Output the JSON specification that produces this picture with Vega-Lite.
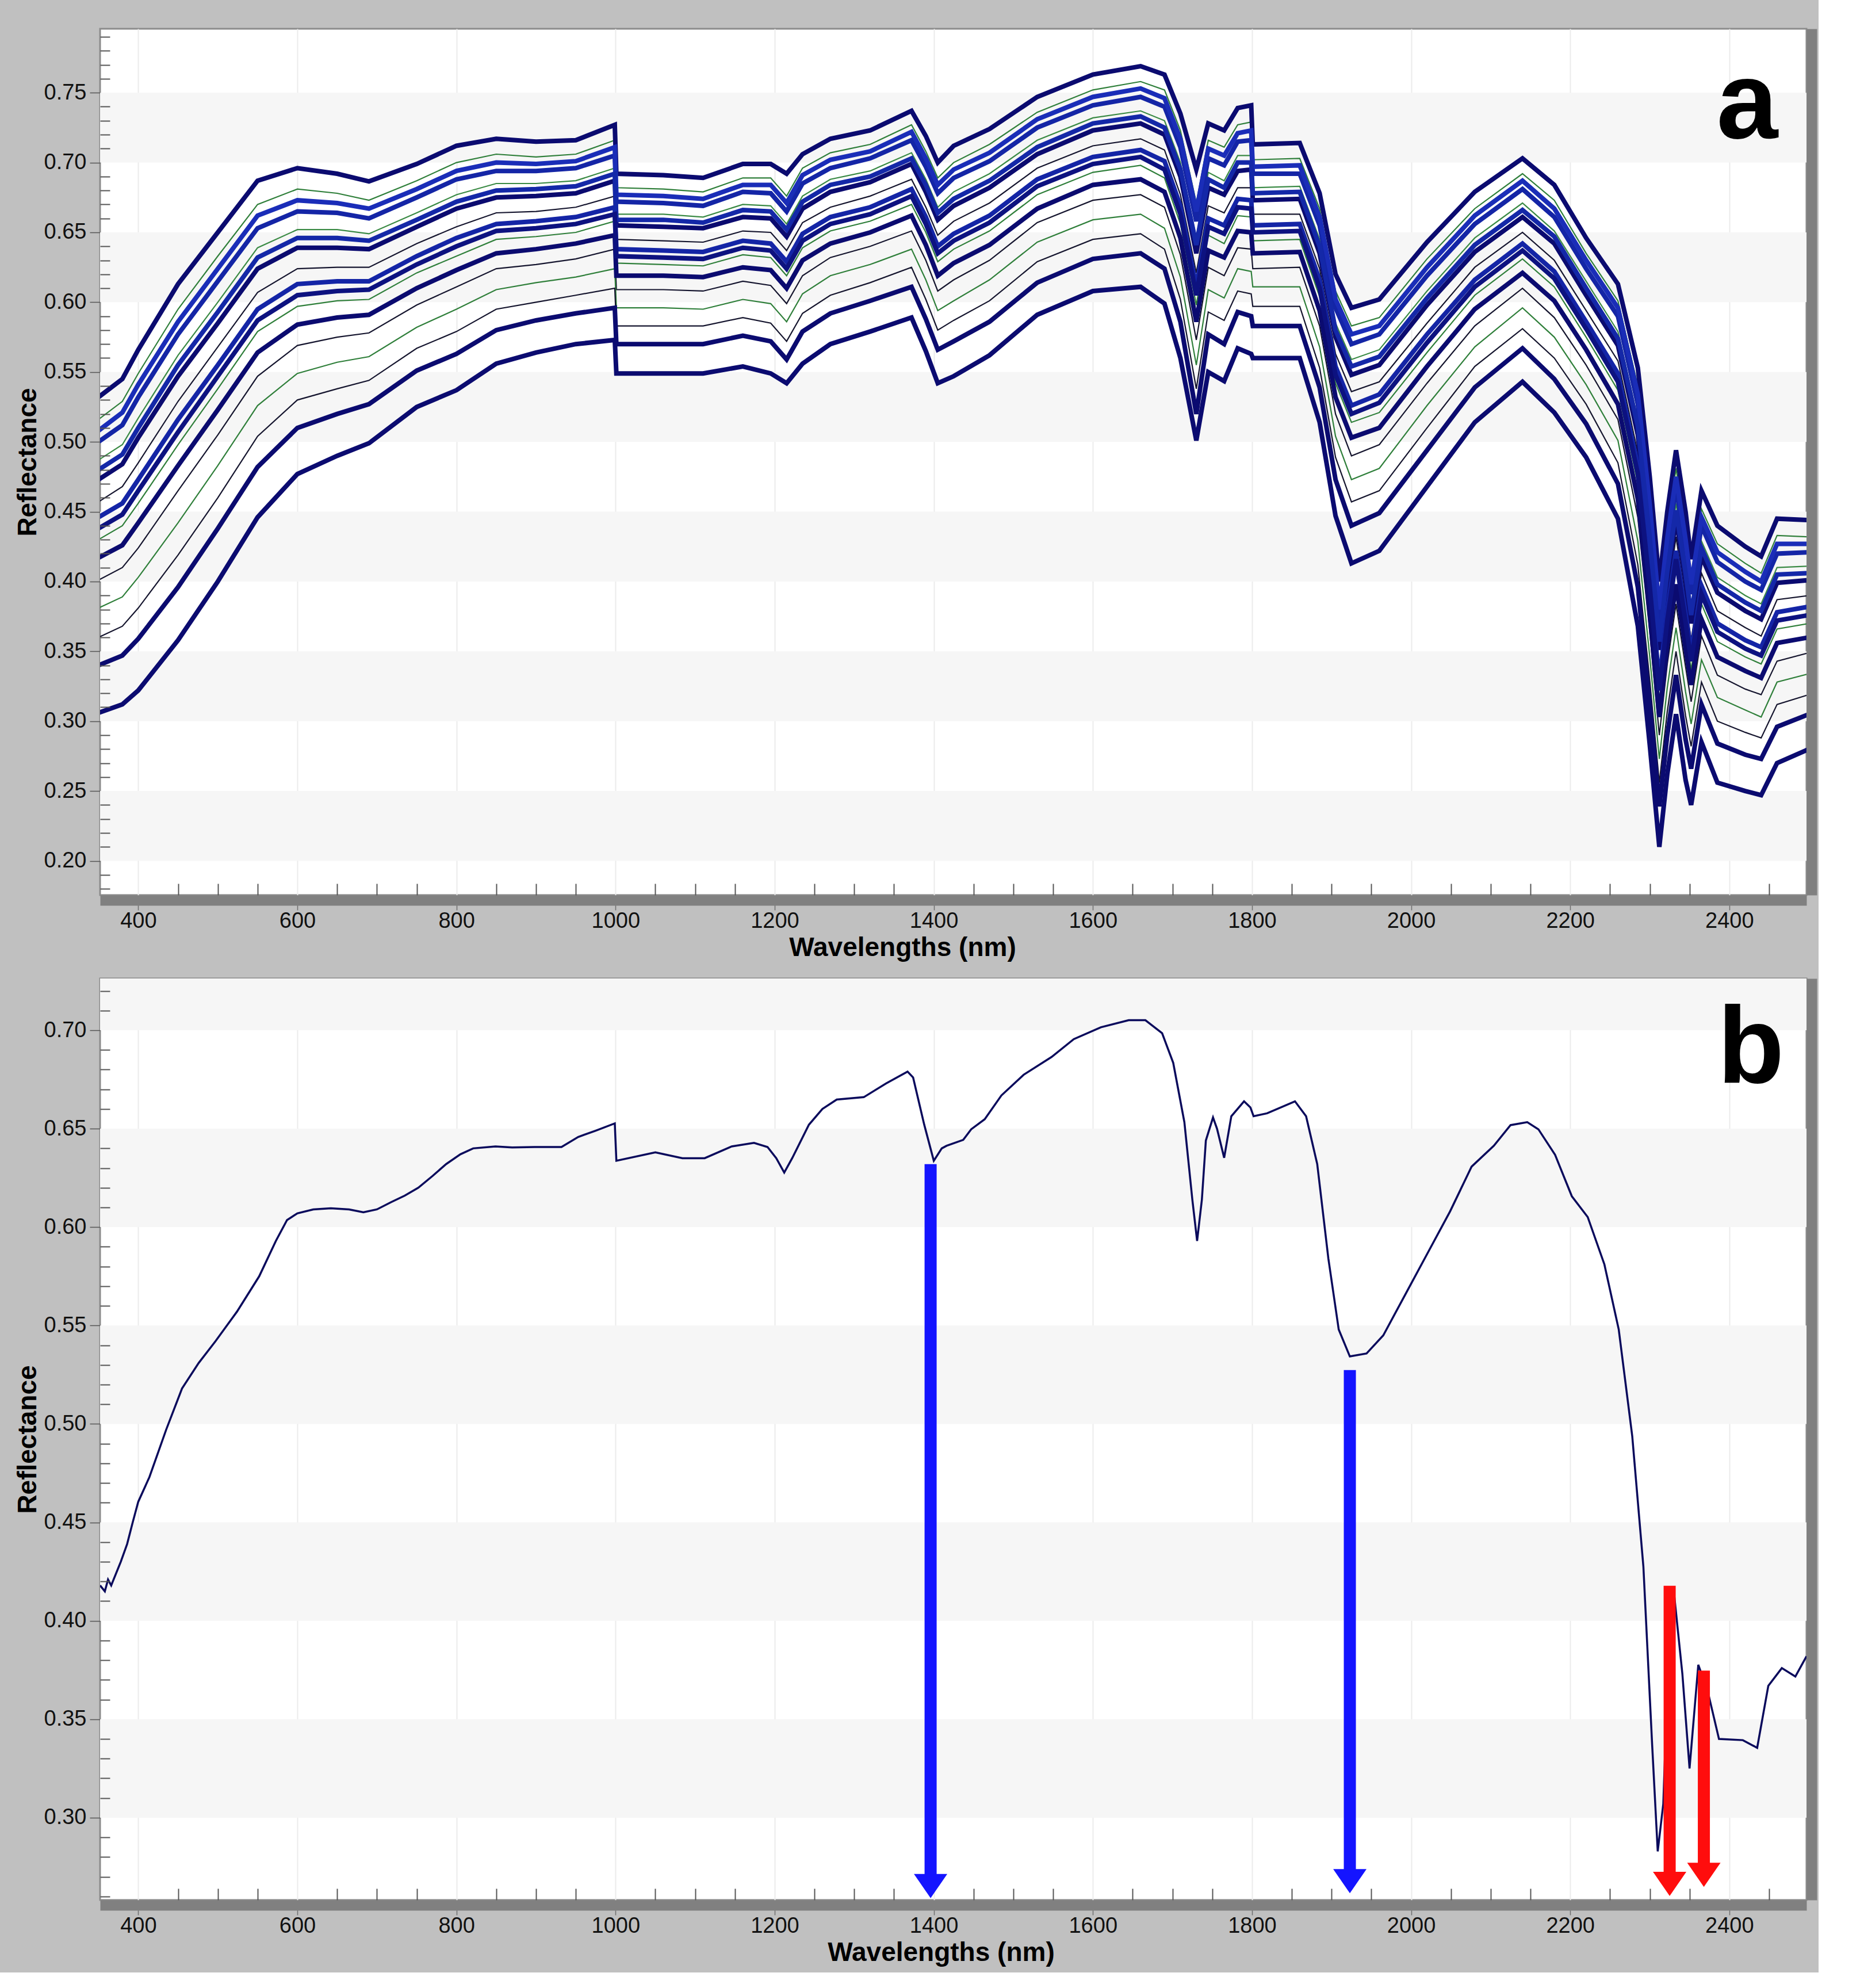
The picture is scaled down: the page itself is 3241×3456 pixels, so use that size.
{
"$schema": "https://vega.github.io/schema/vega-lite/v6.json",
"background": "#c0c0c0",
"padding": {"left": 23, "top": 48, "right": 10, "bottom": 10},
"spacing": 27,
"resolve": {"scale": {"color": "independent"}},
"config": {
  "view": {"stroke": "#8c8c8c", "strokeWidth": 3, "fill": "white"},
  "font": "Liberation Sans",
  "axis": {"labelFont": "Liberation Sans", "titleFont": "Liberation Sans", "labelColor": "#111111", "titleColor": "#000000"}
},
"datasets": {
  "spectra": [
{"w":350,"c1":0.532,"c2":0.516,"c3":0.500,"c4":0.487,"c5":0.473,"c6":0.457,"c7":0.446,"c8":0.430,"c9":0.417,"c10":0.401,"c11":0.381,"c12":0.360,"c13":0.340,"c14":0.306,"c15":0.508,"c16":0.480,"c17":0.438},
{"w":380,"c1":0.545,"c2":0.529,"c3":0.512,"c4":0.498,"c5":0.484,"c6":0.468,"c7":0.456,"c8":0.440,"c9":0.426,"c10":0.410,"c11":0.389,"c12":0.368,"c13":0.347,"c14":0.312,"c15":0.521,"c16":0.491,"c17":0.448},
{"w":400,"c1":0.566,"c2":0.549,"c3":0.532,"c4":0.517,"c5":0.503,"c6":0.485,"c7":0.473,"c8":0.456,"c9":0.442,"c10":0.424,"c11":0.403,"c12":0.381,"c13":0.359,"c14":0.322,"c15":0.541,"c16":0.510,"c17":0.465},
{"w":450,"c1":0.613,"c2":0.595,"c3":0.577,"c4":0.562,"c5":0.547,"c6":0.529,"c7":0.516,"c8":0.498,"c9":0.483,"c10":0.465,"c11":0.442,"c12":0.419,"c13":0.396,"c14":0.358,"c15":0.586,"c16":0.555,"c17":0.507},
{"w":500,"c1":0.650,"c2":0.633,"c3":0.615,"c4":0.600,"c5":0.585,"c6":0.568,"c7":0.555,"c8":0.538,"c9":0.523,"c10":0.505,"c11":0.483,"c12":0.460,"c13":0.438,"c14":0.400,"c15":0.624,"c16":0.593,"c17":0.547},
{"w":550,"c1":0.687,"c2":0.670,"c3":0.653,"c4":0.639,"c5":0.624,"c6":0.607,"c7":0.595,"c8":0.579,"c9":0.564,"c10":0.547,"c11":0.526,"c12":0.504,"c13":0.482,"c14":0.446,"c15":0.662,"c16":0.632,"c17":0.587},
{"w":600,"c1":0.696,"c2":0.681,"c3":0.665,"c4":0.652,"c5":0.639,"c6":0.624,"c7":0.613,"c8":0.597,"c9":0.584,"c10":0.569,"c11":0.549,"c12":0.530,"c13":0.510,"c14":0.477,"c15":0.673,"c16":0.646,"c17":0.605},
{"w":650,"c1":0.692,"c2":0.678,"c3":0.664,"c4":0.652,"c5":0.639,"c6":0.625,"c7":0.615,"c8":0.601,"c9":0.589,"c10":0.575,"c11":0.557,"c12":0.538,"c13":0.520,"c14":0.490,"c15":0.671,"c16":0.646,"c17":0.608},
{"w":690,"c1":0.6865,"c2":0.673,"c3":0.660,"c4":0.649,"c5":0.638,"c6":0.625,"c7":0.615,"c8":0.602,"c9":0.591,"c10":0.578,"c11":0.561,"c12":0.544,"c13":0.527,"c14":0.499,"c15":0.667,"c16":0.644,"c17":0.609},
{"w":750,"c1":0.699,"c2":0.687,"c3":0.675,"c4":0.664,"c5":0.654,"c6":0.642,"c7":0.633,"c8":0.621,"c9":0.610,"c10":0.598,"c11":0.582,"c12":0.567,"c13":0.551,"c14":0.525,"c15":0.681,"c16":0.659,"c17":0.627},
{"w":800,"c1":0.712,"c2":0.700,"c3":0.688,"c4":0.677,"c5":0.667,"c6":0.654,"c7":0.646,"c8":0.633,"c9":0.623,"c10":0.611,"c11":0.595,"c12":0.579,"c13":0.563,"c14":0.537,"c15":0.694,"c16":0.672,"c17":0.640},
{"w":850,"c1":0.717,"c2":0.706,"c3":0.694,"c4":0.685,"c5":0.675,"c6":0.664,"c7":0.656,"c8":0.645,"c9":0.635,"c10":0.624,"c11":0.609,"c12":0.595,"c13":0.580,"c14":0.556,"c15":0.700,"c16":0.680,"c17":0.651},
{"w":900,"c1":0.715,"c2":0.704,"c3":0.694,"c4":0.685,"c5":0.676,"c6":0.665,"c7":0.658,"c8":0.647,"c9":0.638,"c10":0.627,"c11":0.614,"c12":0.600,"c13":0.587,"c14":0.564,"c15":0.699,"c16":0.681,"c17":0.653},
{"w":950,"c1":0.716,"c2":0.706,"c3":0.696,"c4":0.687,"c5":0.678,"c6":0.668,"c7":0.661,"c8":0.650,"c9":0.642,"c10":0.631,"c11":0.618,"c12":0.605,"c13":0.592,"c14":0.570,"c15":0.701,"c16":0.683,"c17":0.656},
{"w":999,"c1":0.727,"c2":0.716,"c3":0.705,"c4":0.696,"c5":0.687,"c6":0.676,"c7":0.668,"c8":0.658,"c9":0.648,"c10":0.638,"c11":0.624,"c12":0.610,"c13":0.596,"c14":0.573,"c15":0.711,"c16":0.692,"c17":0.663},
{"w":1001,"c1":0.692,"c2":0.682,"c3":0.672,"c4":0.663,"c5":0.655,"c6":0.645,"c7":0.638,"c8":0.628,"c9":0.619,"c10":0.609,"c11":0.596,"c12":0.583,"c13":0.570,"c14":0.549,"c15":0.677,"c16":0.659,"c17":0.633},
{"w":1060,"c1":0.691,"c2":0.681,"c3":0.671,"c4":0.663,"c5":0.654,"c6":0.644,"c7":0.637,"c8":0.627,"c9":0.619,"c10":0.609,"c11":0.596,"c12":0.583,"c13":0.570,"c14":0.549,"c15":0.676,"c16":0.659,"c17":0.632},
{"w":1110,"c1":0.689,"c2":0.679,"c3":0.669,"c4":0.661,"c5":0.653,"c6":0.643,"c7":0.636,"c8":0.626,"c9":0.618,"c10":0.608,"c11":0.595,"c12":0.583,"c13":0.570,"c14":0.549,"c15":0.674,"c16":0.657,"c17":0.631},
{"w":1160,"c1":0.699,"c2":0.689,"c3":0.679,"c4":0.670,"c5":0.661,"c6":0.651,"c7":0.644,"c8":0.634,"c9":0.625,"c10":0.615,"c11":0.602,"c12":0.589,"c13":0.576,"c14":0.554,"c15":0.684,"c16":0.666,"c17":0.639},
{"w":1195,"c1":0.699,"c2":0.689,"c3":0.678,"c4":0.669,"c5":0.660,"c6":0.650,"c7":0.642,"c8":0.632,"c9":0.623,"c10":0.612,"c11":0.599,"c12":0.585,"c13":0.572,"c14":0.549,"c15":0.684,"c16":0.665,"c17":0.637},
{"w":1215,"c1":0.692,"c2":0.676,"c3":0.665,"c4":0.656,"c5":0.647,"c6":0.637,"c7":0.629,"c8":0.619,"c9":0.610,"c10":0.599,"c11":0.586,"c12":0.572,"c13":0.559,"c14":0.542,"c15":0.671,"c16":0.652,"c17":0.624},
{"w":1235,"c1":0.706,"c2":0.696,"c3":0.685,"c4":0.676,"c5":0.667,"c6":0.657,"c7":0.649,"c8":0.639,"c9":0.630,"c10":0.619,"c11":0.606,"c12":0.592,"c13":0.579,"c14":0.556,"c15":0.691,"c16":0.672,"c17":0.644},
{"w":1270,"c1":0.717,"c2":0.707,"c3":0.696,"c4":0.688,"c5":0.679,"c6":0.668,"c7":0.661,"c8":0.651,"c9":0.642,"c10":0.632,"c11":0.619,"c12":0.605,"c13":0.592,"c14":0.570,"c15":0.702,"c16":0.684,"c17":0.656},
{"w":1320,"c1":0.723,"c2":0.713,"c3":0.703,"c4":0.694,"c5":0.686,"c6":0.676,"c7":0.668,"c8":0.658,"c9":0.650,"c10":0.640,"c11":0.627,"c12":0.614,"c13":0.601,"c14":0.579,"c15":0.708,"c16":0.690,"c17":0.663},
{"w":1372,"c1":0.737,"c2":0.727,"c3":0.716,"c4":0.707,"c5":0.699,"c6":0.688,"c7":0.681,"c8":0.670,"c9":0.662,"c10":0.651,"c11":0.638,"c12":0.625,"c13":0.611,"c14":0.589,"c15":0.722,"c16":0.703,"c17":0.676},
{"w":1390,"c1":0.719,"c2":0.708,"c3":0.697,"c4":0.688,"c5":0.679,"c6":0.668,"c7":0.661,"c8":0.650,"c9":0.641,"c10":0.630,"c11":0.616,"c12":0.602,"c13":0.588,"c14":0.565,"c15":0.703,"c16":0.684,"c17":0.656},
{"w":1405,"c1":0.700,"c2":0.689,"c3":0.678,"c4":0.668,"c5":0.659,"c6":0.648,"c7":0.640,"c8":0.629,"c9":0.619,"c10":0.608,"c11":0.594,"c12":0.580,"c13":0.566,"c14":0.542,"c15":0.684,"c16":0.664,"c17":0.635},
{"w":1425,"c1":0.712,"c2":0.700,"c3":0.689,"c4":0.679,"c5":0.669,"c6":0.658,"c7":0.649,"c8":0.638,"c9":0.628,"c10":0.616,"c11":0.601,"c12":0.587,"c13":0.572,"c14":0.547,"c15":0.695,"c16":0.674,"c17":0.644},
{"w":1470,"c1":0.724,"c2":0.713,"c3":0.701,"c4":0.692,"c5":0.682,"c6":0.671,"c7":0.662,"c8":0.651,"c9":0.641,"c10":0.630,"c11":0.616,"c12":0.601,"c13":0.586,"c14":0.562,"c15":0.707,"c16":0.687,"c17":0.657},
{"w":1530,"c1":0.747,"c2":0.736,"c3":0.725,"c4":0.716,"c5":0.706,"c6":0.696,"c7":0.688,"c8":0.677,"c9":0.667,"c10":0.657,"c11":0.643,"c12":0.629,"c13":0.614,"c14":0.591,"c15":0.731,"c16":0.711,"c17":0.683},
{"w":1600,"c1":0.763,"c2":0.752,"c3":0.741,"c4":0.732,"c5":0.723,"c6":0.712,"c7":0.704,"c8":0.693,"c9":0.684,"c10":0.673,"c11":0.659,"c12":0.645,"c13":0.631,"c14":0.608,"c15":0.747,"c16":0.728,"c17":0.699},
{"w":1660,"c1":0.769,"c2":0.758,"c3":0.747,"c4":0.737,"c5":0.728,"c6":0.717,"c7":0.709,"c8":0.698,"c9":0.688,"c10":0.677,"c11":0.663,"c12":0.649,"c13":0.635,"c14":0.611,"c15":0.753,"c16":0.733,"c17":0.704},
{"w":1690,"c1":0.763,"c2":0.752,"c3":0.740,"c4":0.730,"c5":0.720,"c6":0.709,"c7":0.701,"c8":0.689,"c9":0.679,"c10":0.668,"c11":0.653,"c12":0.638,"c13":0.624,"c14":0.599,"c15":0.746,"c16":0.725,"c17":0.695},
{"w":1710,"c1":0.735,"c2":0.723,"c3":0.711,"c4":0.700,"c5":0.690,"c6":0.677,"c7":0.669,"c8":0.656,"c9":0.646,"c10":0.634,"c11":0.618,"c12":0.602,"c13":0.586,"c14":0.560,"c15":0.717,"c16":0.695,"c17":0.663},
{"w":1730,"c1":0.695,"c2":0.671,"c3":0.658,"c4":0.646,"c5":0.635,"c6":0.621,"c7":0.611,"c8":0.598,"c9":0.586,"c10":0.573,"c11":0.555,"c12":0.538,"c13":0.520,"c14":0.501,"c15":0.665,"c16":0.641,"c17":0.605},
{"w":1745,"c1":0.728,"c2":0.716,"c3":0.703,"c4":0.693,"c5":0.682,"c6":0.669,"c7":0.660,"c8":0.648,"c9":0.637,"c10":0.625,"c11":0.609,"c12":0.593,"c13":0.577,"c14":0.550,"c15":0.710,"c16":0.688,"c17":0.654},
{"w":1765,"c1":0.723,"c2":0.711,"c3":0.698,"c4":0.687,"c5":0.677,"c6":0.664,"c7":0.655,"c8":0.642,"c9":0.632,"c10":0.619,"c11":0.603,"c12":0.587,"c13":0.570,"c14":0.5435,"c15":0.705,"c16":0.682,"c17":0.649},
{"w":1782,"c1":0.739,"c2":0.727,"c3":0.715,"c4":0.705,"c5":0.694,"c6":0.682,"c7":0.674,"c8":0.662,"c9":0.651,"c10":0.639,"c11":0.624,"c12":0.608,"c13":0.593,"c14":0.567,"c15":0.721,"c16":0.700,"c17":0.668},
{"w":1799,"c1":0.741,"c2":0.729,"c3":0.716,"c4":0.705,"c5":0.695,"c6":0.682,"c7":0.673,"c8":0.661,"c9":0.650,"c10":0.638,"c11":0.622,"c12":0.606,"c13":0.590,"c14":0.563,"c15":0.723,"c16":0.700,"c17":0.667},
{"w":1801,"c1":0.713,"c2":0.702,"c3":0.692,"c4":0.682,"c5":0.673,"c6":0.663,"c7":0.655,"c8":0.644,"c9":0.635,"c10":0.624,"c11":0.611,"c12":0.597,"c13":0.583,"c14":0.560,"c15":0.697,"c16":0.678,"c17":0.650},
{"w":1860,"c1":0.714,"c2":0.703,"c3":0.692,"c4":0.683,"c5":0.674,"c6":0.663,"c7":0.656,"c8":0.645,"c9":0.636,"c10":0.625,"c11":0.611,"c12":0.597,"c13":0.583,"c14":0.560,"c15":0.698,"c16":0.679,"c17":0.651},
{"w":1885,"c1":0.678,"c2":0.667,"c3":0.655,"c4":0.645,"c5":0.635,"c6":0.624,"c7":0.616,"c8":0.604,"c9":0.594,"c10":0.583,"c11":0.568,"c12":0.553,"c13":0.539,"c14":0.514,"c15":0.661,"c16":0.640,"c17":0.610},
{"w":1905,"c1":0.620,"c2":0.608,"c3":0.596,"c4":0.585,"c5":0.575,"c6":0.563,"c7":0.554,"c8":0.542,"c9":0.532,"c10":0.520,"c11":0.504,"c12":0.489,"c13":0.473,"c14":0.447,"c15":0.602,"c16":0.580,"c17":0.548},
{"w":1925,"c1":0.596,"c2":0.583,"c3":0.570,"c4":0.559,"c5":0.548,"c6":0.536,"c7":0.526,"c8":0.514,"c9":0.503,"c10":0.490,"c11":0.473,"c12":0.457,"c13":0.440,"c14":0.413,"c15":0.577,"c16":0.554,"c17":0.520},
{"w":1960,"c1":0.602,"c2":0.589,"c3":0.577,"c4":0.566,"c5":0.555,"c6":0.543,"c7":0.534,"c8":0.521,"c9":0.510,"c10":0.498,"c11":0.481,"c12":0.465,"c13":0.449,"c14":0.422,"c15":0.583,"c16":0.561,"c17":0.528},
{"w":2020,"c1":0.643,"c2":0.631,"c3":0.619,"c4":0.608,"c5":0.598,"c6":0.585,"c7":0.577,"c8":0.564,"c9":0.554,"c10":0.542,"c11":0.526,"c12":0.510,"c13":0.494,"c14":0.468,"c15":0.625,"c16":0.603,"c17":0.571},
{"w":2080,"c1":0.679,"c2":0.667,"c3":0.656,"c4":0.646,"c5":0.636,"c6":0.625,"c7":0.616,"c8":0.605,"c9":0.595,"c10":0.583,"c11":0.568,"c12":0.554,"c13":0.539,"c14":0.514,"c15":0.662,"c16":0.641,"c17":0.611},
{"w":2140,"c1":0.703,"c2":0.692,"c3":0.681,"c4":0.671,"c5":0.661,"c6":0.650,"c7":0.642,"c8":0.631,"c9":0.621,"c10":0.610,"c11":0.596,"c12":0.581,"c13":0.567,"c14":0.543,"c15":0.687,"c16":0.666,"c17":0.637},
{"w":2180,"c1":0.684,"c2":0.673,"c3":0.661,"c4":0.651,"c5":0.642,"c6":0.630,"c7":0.622,"c8":0.611,"c9":0.601,"c10":0.589,"c11":0.575,"c12":0.560,"c13":0.545,"c14":0.521,"c15":0.667,"c16":0.647,"c17":0.617},
{"w":2220,"c1":0.646,"c2":0.635,"c3":0.624,"c4":0.615,"c5":0.605,"c6":0.594,"c7":0.586,"c8":0.575,"c9":0.566,"c10":0.555,"c11":0.541,"c12":0.527,"c13":0.513,"c14":0.489,"c15":0.630,"c16":0.610,"c17":0.581},
{"w":2260,"c1":0.613,"c2":0.601,"c3":0.590,"c4":0.579,"c5":0.569,"c6":0.558,"c7":0.549,"c8":0.537,"c9":0.527,"c10":0.516,"c11":0.501,"c12":0.485,"c13":0.470,"c14":0.445,"c15":0.596,"c16":0.574,"c17":0.543},
{"w":2285,"c1":0.553,"c2":0.540,"c3":0.527,"c4":0.516,"c5":0.505,"c6":0.492,"c7":0.483,"c8":0.470,"c9":0.459,"c10":0.446,"c11":0.429,"c12":0.412,"c13":0.396,"c14":0.368,"c15":0.534,"c16":0.511,"c17":0.477},
{"w":2300,"c1":0.475,"c2":0.462,"c3":0.448,"c4":0.437,"c5":0.425,"c6":0.412,"c7":0.402,"c8":0.389,"c9":0.377,"c10":0.364,"c11":0.346,"c12":0.329,"c13":0.312,"c14":0.283,"c15":0.455,"c16":0.431,"c17":0.396},
{"w":2312,"c1":0.400,"c2":0.387,"c3":0.373,"c4":0.362,"c5":0.351,"c6":0.337,"c7":0.328,"c8":0.315,"c9":0.303,"c10":0.290,"c11":0.273,"c12":0.256,"c13":0.239,"c14":0.210,"c15":0.380,"c16":0.357,"c17":0.322},
{"w":2322,"c1":0.450,"c2":0.437,"c3":0.424,"c4":0.412,"c5":0.401,"c6":0.388,"c7":0.379,"c8":0.365,"c9":0.354,"c10":0.341,"c11":0.324,"c12":0.307,"c13":0.290,"c14":0.262,"c15":0.431,"c16":0.407,"c17":0.372},
{"w":2333,"c1":0.494,"c2":0.481,"c3":0.468,"c4":0.456,"c5":0.445,"c6":0.432,"c7":0.422,"c8":0.409,"c9":0.398,"c10":0.384,"c11":0.367,"c12":0.350,"c13":0.333,"c14":0.305,"c15":0.475,"c16":0.451,"c17":0.416},
{"w":2345,"c1":0.450,"c2":0.437,"c3":0.423,"c4":0.412,"c5":0.400,"c6":0.387,"c7":0.377,"c8":0.364,"c9":0.352,"c10":0.339,"c11":0.321,"c12":0.304,"c13":0.287,"c14":0.258,"c15":0.430,"c16":0.406,"c17":0.371},
{"w":2352,"c1":0.416,"c2":0.404,"c3":0.391,"c4":0.381,"c5":0.370,"c6":0.358,"c7":0.349,"c8":0.337,"c9":0.326,"c10":0.314,"c11":0.298,"c12":0.282,"c13":0.266,"c14":0.240,"c15":0.398,"c16":0.376,"c17":0.343},
{"w":2365,"c1":0.465,"c2":0.452,"c3":0.440,"c4":0.429,"c5":0.418,"c6":0.406,"c7":0.397,"c8":0.384,"c9":0.373,"c10":0.361,"c11":0.344,"c12":0.328,"c13":0.312,"c14":0.285,"c15":0.446,"c16":0.424,"c17":0.391},
{"w":2385,"c1":0.440,"c2":0.427,"c3":0.414,"c4":0.403,"c5":0.392,"c6":0.379,"c7":0.370,"c8":0.357,"c9":0.346,"c10":0.333,"c11":0.317,"c12":0.300,"c13":0.284,"c14":0.256,"c15":0.421,"c16":0.398,"c17":0.364},
{"w":2420,"c1":0.425,"c2":0.413,"c3":0.400,"c4":0.390,"c5":0.379,"c6":0.367,"c7":0.358,"c8":0.346,"c9":0.336,"c10":0.323,"c11":0.308,"c12":0.292,"c13":0.276,"c14":0.250,"c15":0.407,"c16":0.385,"c17":0.352},
{"w":2440,"c1":0.418,"c2":0.406,"c3":0.394,"c4":0.384,"c5":0.373,"c6":0.361,"c7":0.353,"c8":0.341,"c9":0.331,"c10":0.319,"c11":0.303,"c12":0.288,"c13":0.273,"c14":0.247,"c15":0.400,"c16":0.379,"c17":0.347},
{"w":2460,"c1":0.445,"c2":0.433,"c3":0.420,"c4":0.410,"c5":0.399,"c6":0.387,"c7":0.378,"c8":0.366,"c9":0.356,"c10":0.343,"c11":0.328,"c12":0.312,"c13":0.296,"c14":0.270,"c15":0.427,"c16":0.405,"c17":0.372},
{"w":2500,"c1":0.444,"c2":0.432,"c3":0.421,"c4":0.411,"c5":0.401,"c6":0.390,"c7":0.382,"c8":0.370,"c9":0.360,"c10":0.349,"c11":0.334,"c12":0.319,"c13":0.305,"c14":0.280,"c15":0.427,"c16":0.406,"c17":0.376}
  ],
  "mean": [
{"w":352,"r":0.418},{"w":358,"r":0.415},{"w":362,"r":0.421},{"w":366,"r":0.418},{"w":372,"r":0.424},{"w":378,"r":0.430},{"w":386,"r":0.439},{"w":393,"r":0.450},{"w":400,"r":0.4605},{"w":414,"r":0.473},{"w":435,"r":0.497},{"w":455,"r":0.518},{"w":476,"r":0.531},{"w":497,"r":0.542},{"w":524,"r":0.557},{"w":552,"r":0.575},{"w":573,"r":0.593},{"w":587,"r":0.6036},{"w":600,"r":0.607},{"w":620,"r":0.609},{"w":642,"r":0.6096},{"w":665,"r":0.609},{"w":683,"r":0.6075},{"w":700,"r":0.609},{"w":718,"r":0.6127},{"w":735,"r":0.616},{"w":752,"r":0.620},{"w":770,"r":0.626},{"w":787,"r":0.632},{"w":805,"r":0.637},{"w":821,"r":0.640},{"w":849,"r":0.641},{"w":870,"r":0.6405},{"w":898,"r":0.6407},{"w":932,"r":0.6407},{"w":953,"r":0.6458},{"w":975,"r":0.649},{"w":999,"r":0.6527},{"w":1001,"r":0.6337},{"w":1050,"r":0.638},{"w":1084,"r":0.635},{"w":1112,"r":0.635},{"w":1146,"r":0.641},{"w":1174,"r":0.6428},{"w":1191,"r":0.6407},{"w":1202,"r":0.635},{"w":1212,"r":0.6277},{"w":1222,"r":0.635},{"w":1243,"r":0.652},{"w":1260,"r":0.660},{"w":1278,"r":0.6648},{"w":1312,"r":0.666},{"w":1340,"r":0.673},{"w":1367,"r":0.679},{"w":1374,"r":0.676},{"w":1388,"r":0.652},{"w":1400,"r":0.6337},{"w":1410,"r":0.640},{"w":1416,"r":0.6413},{"w":1437,"r":0.6443},{"w":1447,"r":0.6497},{"w":1464,"r":0.6548},{"w":1485,"r":0.6669},{"w":1513,"r":0.6774},{"w":1548,"r":0.6864},{"w":1576,"r":0.6955},{"w":1610,"r":0.7015},{"w":1645,"r":0.7051},{"w":1666,"r":0.7051},{"w":1687,"r":0.6985},{"w":1701,"r":0.6834},{"w":1715,"r":0.6533},{"w":1725,"r":0.614},{"w":1731,"r":0.593},{"w":1737,"r":0.614},{"w":1742,"r":0.644},{"w":1751,"r":0.6557},{"w":1756,"r":0.650},{"w":1765,"r":0.6352},{"w":1774,"r":0.6563},{"w":1790,"r":0.6639},{"w":1798,"r":0.6608},{"w":1802,"r":0.6563},{"w":1819,"r":0.6578},{"w":1854,"r":0.6639},{"w":1868,"r":0.6563},{"w":1882,"r":0.632},{"w":1896,"r":0.584},{"w":1909,"r":0.548},{"w":1923,"r":0.5343},{"w":1944,"r":0.5358},{"w":1965,"r":0.545},{"w":1993,"r":0.566},{"w":2021,"r":0.587},{"w":2049,"r":0.608},{"w":2076,"r":0.6307},{"w":2104,"r":0.6413},{"w":2125,"r":0.6518},{"w":2146,"r":0.6533},{"w":2160,"r":0.6497},{"w":2181,"r":0.6367},{"w":2202,"r":0.6157},{"w":2222,"r":0.6051},{"w":2243,"r":0.581},{"w":2261,"r":0.548},{"w":2278,"r":0.4937},{"w":2292,"r":0.4274},{"w":2303,"r":0.337},{"w":2310,"r":0.2829},{"w":2317,"r":0.307},{"w":2324,"r":0.388},{"w":2331,"r":0.412},{"w":2341,"r":0.373},{"w":2350,"r":0.325},{"w":2361,"r":0.3777},{"w":2373,"r":0.364},{"w":2387,"r":0.340},{"w":2417,"r":0.3394},{"w":2435,"r":0.3355},{"w":2449,"r":0.367},{"w":2466,"r":0.376},{"w":2483,"r":0.3717},{"w":2497,"r":0.382}
  ]
},
"vconcat": [
{
  "width": 2967, "height": 1506,
  "resolve": {"axis": {"x": "independent", "y": "independent"}},
  "layer": [
    {
      "data": {"values": [{"lo":0.70,"hi":0.75},{"lo":0.60,"hi":0.65},{"lo":0.50,"hi":0.55},{"lo":0.40,"hi":0.45},{"lo":0.30,"hi":0.35},{"lo":0.20,"hi":0.25}]},
      "mark": {"type": "rect", "fill": "#f6f6f6", "clip": true},
      "encoding": {
        "y": {"field": "lo", "type": "quantitative", "scale": {"domain": [0.1755, 0.7958], "nice": false, "zero": false},
              "axis": {"orient": "left", "values": [0.2,0.25,0.3,0.35,0.4,0.45,0.5,0.55,0.6,0.65,0.7,0.75], "format": ".2f", "title": "Reflectance", "labelFontSize": 38, "labelPadding": 6, "tickSize": 18, "tickColor": "#555555", "tickWidth": 1.5, "domain": false, "grid": false, "titleFontSize": 46, "titleFontWeight": "bold", "titlePadding": 4}},
        "y2": {"field": "hi"}
      }
    },
    {
      "data": {"values": [{"w": 1000, "r": 0.5}]},
      "mark": {"type": "point", "opacity": 0},
      "encoding": {
        "x": {"field": "w", "type": "quantitative", "scale": {"domain": [352, 2497], "nice": false, "zero": false},
              "axis": {"orient": "bottom", "values": [450,500,550,650,700,750,850,900,950,1050,1100,1150,1250,1300,1350,1450,1500,1550,1650,1700,1750,1850,1900,1950,2050,2100,2150,2250,2300,2350,2450], "labels": false, "domain": false, "grid": false, "title": null, "tickSize": -20, "tickColor": "#555555", "tickWidth": 2, "zindex": 1}},
        "y": {"field": "r", "type": "quantitative", "scale": {"domain": [0.1755, 0.7958], "nice": false, "zero": false},
              "axis": {"orient": "left", "values": [0.18,0.19,0.21,0.22,0.23,0.24,0.26,0.27,0.28,0.29,0.31,0.32,0.33,0.34,0.36,0.37,0.38,0.39,0.41,0.42,0.43,0.44,0.46,0.47,0.48,0.49,0.51,0.52,0.53,0.54,0.56,0.57,0.58,0.59,0.61,0.62,0.63,0.64,0.66,0.67,0.68,0.69,0.71,0.72,0.73,0.74,0.76,0.77,0.78,0.79], "labels": false, "domain": false, "grid": false, "title": null, "tickSize": -17, "tickColor": "#555555", "tickWidth": 2, "zindex": 1}}
      }
    },
    {
      "data": {"name": "spectra"},
      "transform": [
        {"fold": ["c1","c2","c3","c4","c5","c6","c7","c8","c9","c10","c11","c12","c13","c14","c15","c16","c17"], "as": ["curve", "r"]},
        {"filter": {"field": "curve", "oneOf": ["c2","c4","c6","c8","c10","c11","c12"]}}
      ],
      "mark": {"type": "line", "strokeWidth": 2.2, "clip": true},
      "encoding": {
        "x": {"field": "w", "type": "quantitative", "scale": {"domain": [352, 2497], "nice": false, "zero": false},
              "axis": {"orient": "bottom", "values": [400,600,800,1000,1200,1400,1600,1800,2000,2200,2400], "format": "d", "title": "Wavelengths (nm)", "labelFontSize": 38, "labelPadding": 0, "labelFlush": false, "tickSize": 17, "tickColor": "#6e6e6e", "tickWidth": 1.5, "domainColor": "#808080", "domainWidth": 18, "offset": 9, "grid": true, "gridColor": "#ebebeb", "gridWidth": 2, "titleFontSize": 46, "titleFontWeight": "bold", "titleX": 1395, "titleY": 96, "titleAlign": "center", "titleBaseline": "alphabetic"}},
        "y": {"field": "r", "type": "quantitative", "scale": {"domain": [0.1755, 0.7958], "nice": false, "zero": false},
              "axis": {"orient": "right", "labels": false, "ticks": false, "grid": false, "title": null, "domainColor": "#808080", "domainWidth": 18, "offset": 9}},
        "color": {"field": "curve", "type": "nominal", "legend": null,
                  "scale": {"domain": ["c1","c2","c3","c4","c5","c6","c7","c8","c9","c10","c11","c12","c13","c14","c15","c16","c17"],
                            "range": ["#0b0b70","#2f7f3a","#1425a6","#3a8a44","#0b0b70","#15152e","#1425a6","#2f7f3a","#0b0b70","#15152e","#2f7f3a","#15152e","#0b0b70","#0b0b70","#1a2db8","#1428a8","#0d1280"]}},
        "detail": {"field": "curve"}
      }
    },
    {
      "data": {"name": "spectra"},
      "transform": [
        {"fold": ["c1","c2","c3","c4","c5","c6","c7","c8","c9","c10","c11","c12","c13","c14","c15","c16","c17"], "as": ["curve", "r"]},
        {"filter": {"field": "curve", "oneOf": ["c15","c16","c17","c3","c5","c7","c9","c13","c14","c1"]}}
      ],
      "mark": {"type": "line", "strokeWidth": 8, "clip": true},
      "encoding": {
        "x": {"field": "w", "type": "quantitative", "scale": {"domain": [352, 2497], "nice": false, "zero": false}, "axis": null},
        "y": {"field": "r", "type": "quantitative", "scale": {"domain": [0.1755, 0.7958], "nice": false, "zero": false}, "axis": null},
        "color": {"field": "curve", "type": "nominal", "legend": null},
        "detail": {"field": "curve"}
      }
    },
    {
      "data": {"values": [{"w": 2461, "r": 0.7175, "t": "a"}]},
      "mark": {"type": "text", "fontSize": 192, "fontWeight": "bold", "font": "Liberation Sans", "align": "right", "baseline": "alphabetic", "color": "#000000"},
      "encoding": {
        "x": {"field": "w", "type": "quantitative", "axis": null},
        "y": {"field": "r", "type": "quantitative", "axis": null},
        "text": {"field": "t"}
      }
    }
  ]
},
{
  "width": 2967, "height": 1602,
  "resolve": {"axis": {"x": "independent", "y": "independent"}},
  "layer": [
    {
      "data": {"values": [{"lo":0.70,"hi":0.75},{"lo":0.60,"hi":0.65},{"lo":0.50,"hi":0.55},{"lo":0.40,"hi":0.45},{"lo":0.30,"hi":0.35}]},
      "mark": {"type": "rect", "fill": "#f6f6f6", "clip": true},
      "encoding": {
        "y": {"field": "lo", "type": "quantitative", "scale": {"domain": [0.2582, 0.7263], "nice": false, "zero": false},
              "axis": {"orient": "left", "values": [0.3,0.35,0.4,0.45,0.5,0.55,0.6,0.65,0.7], "format": ".2f", "title": "Reflectance", "labelFontSize": 38, "labelPadding": 6, "tickSize": 18, "tickColor": "#555555", "tickWidth": 1.5, "domain": false, "grid": false, "titleFontSize": 46, "titleFontWeight": "bold", "titlePadding": 4}},
        "y2": {"field": "hi"}
      }
    },
    {
      "data": {"values": [{"w": 1000, "r": 0.5}]},
      "mark": {"type": "point", "opacity": 0},
      "encoding": {
        "x": {"field": "w", "type": "quantitative", "scale": {"domain": [352, 2497], "nice": false, "zero": false},
              "axis": {"orient": "bottom", "values": [450,500,550,650,700,750,850,900,950,1050,1100,1150,1250,1300,1350,1450,1500,1550,1650,1700,1750,1850,1900,1950,2050,2100,2150,2250,2300,2350,2450], "labels": false, "domain": false, "grid": false, "title": null, "tickSize": -20, "tickColor": "#555555", "tickWidth": 2, "zindex": 1}},
        "y": {"field": "r", "type": "quantitative", "scale": {"domain": [0.2582, 0.7263], "nice": false, "zero": false},
              "axis": {"orient": "left", "values": [0.26,0.27,0.28,0.29,0.31,0.32,0.33,0.34,0.36,0.37,0.38,0.39,0.41,0.42,0.43,0.44,0.46,0.47,0.48,0.49,0.51,0.52,0.53,0.54,0.56,0.57,0.58,0.59,0.61,0.62,0.63,0.64,0.66,0.67,0.68,0.69,0.71,0.72], "labels": false, "domain": false, "grid": false, "title": null, "tickSize": -17, "tickColor": "#555555", "tickWidth": 2, "zindex": 1}}
      }
    },
    {
      "data": {"name": "mean"},
      "mark": {"type": "line", "strokeWidth": 3.5, "color": "#0a0a5c", "clip": true},
      "encoding": {
        "x": {"field": "w", "type": "quantitative", "scale": {"domain": [352, 2497], "nice": false, "zero": false},
              "axis": {"orient": "bottom", "values": [400,600,800,1000,1200,1400,1600,1800,2000,2200,2400], "format": "d", "title": "Wavelengths (nm)", "labelFontSize": 38, "labelPadding": 0, "labelFlush": false, "tickSize": 17, "tickColor": "#6e6e6e", "tickWidth": 1.5, "domainColor": "#808080", "domainWidth": 18, "offset": 9, "grid": true, "gridColor": "#ebebeb", "gridWidth": 2, "titleFontSize": 46, "titleFontWeight": "bold", "titleX": 1462, "titleY": 96, "titleAlign": "center", "titleBaseline": "alphabetic"}},
        "y": {"field": "r", "type": "quantitative", "scale": {"domain": [0.2582, 0.7263], "nice": false, "zero": false},
              "axis": {"orient": "right", "labels": false, "ticks": false, "grid": false, "title": null, "domainColor": "#808080", "domainWidth": 18, "offset": 9}}
      }
    },
    {
      "data": {"values": [{"id":"1","w":1396,"top":0.632,"base":0.2655},{"id":"2","w":1923,"top":0.5274,"base":0.268},{"id":"3","w":2325,"top":0.4178,"base":0.2666},{"id":"4","w":2368,"top":0.3747,"base":0.2712}]},
      "mark": {"type": "rule", "strokeWidth": 21, "strokeCap": "butt"},
      "encoding": {
        "x": {"field": "w", "type": "quantitative", "axis": null},
        "y": {"field": "top", "type": "quantitative", "axis": null},
        "y2": {"field": "base"},
        "color": {"field": "id", "type": "nominal", "legend": null, "scale": {"domain": ["1","2","3","4"], "range": ["#1414ff","#1414ff","#ff0d0d","#ff0d0d"]}}
      }
    },
    {
      "data": {"values": [{"id":"1","w":1396,"base":0.2655},{"id":"2","w":1923,"base":0.268},{"id":"3","w":2325,"base":0.2666},{"id":"4","w":2368,"base":0.2712}]},
      "mark": {"type": "point", "shape": "M-1,-0.7L1,-0.7L0,0.75Z", "size": 3364, "filled": true, "opacity": 1, "strokeWidth": 0},
      "encoding": {
        "x": {"field": "w", "type": "quantitative", "axis": null},
        "y": {"field": "base", "type": "quantitative", "axis": null},
        "color": {"field": "id", "type": "nominal", "legend": null}
      }
    },
    {
      "data": {"values": [{"w": 2469, "r": 0.6734, "t": "b"}]},
      "mark": {"type": "text", "fontSize": 190, "fontWeight": "bold", "font": "Liberation Sans", "align": "right", "baseline": "alphabetic", "color": "#000000"},
      "encoding": {
        "x": {"field": "w", "type": "quantitative", "axis": null},
        "y": {"field": "r", "type": "quantitative", "axis": null},
        "text": {"field": "t"}
      }
    }
  ]
}
]
}
